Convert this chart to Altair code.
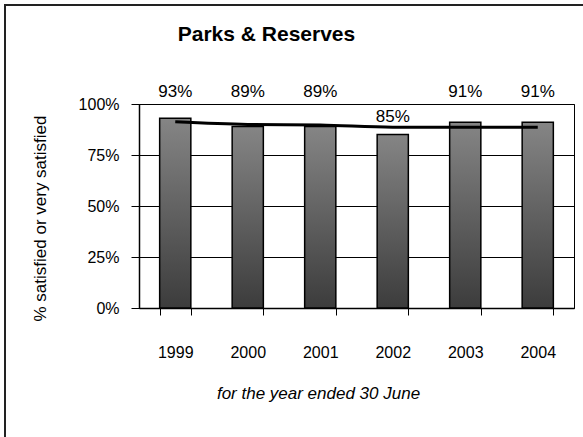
import altair as alt
import pandas as pd

# ---- data ----
years = ["1999", "2000", "2001", "2002", "2003", "2004"]
satisfied = [0.93, 0.89, 0.89, 0.85, 0.91, 0.91]
trend = [0.913, 0.900, 0.897, 0.886, 0.886, 0.886]
labels = ["93%", "89%", "89%", "85%", "91%", "91%"]
y_ticks = [0, 0.25, 0.5, 0.75, 1.0]

df = pd.DataFrame({"year": years, "value": satisfied, "trend": trend, "label": labels})

SANS = "Liberation Sans, Arial, sans-serif"

x_enc = alt.X(
    "year:N",
    sort=years,
    scale=alt.Scale(paddingInner=0.57, paddingOuter=0.285),
    axis=alt.Axis(
        title="for the year ended 30 June",
        labelAngle=0,
        tickBand="extent",
        tickSize=7,
        tickColor="black",
        domainColor="black",
        domainWidth=1.5,
        labelFont=SANS,
        labelFontSize=16,
        labelColor="black",
        labelPadding=29,
        titleFont=SANS,
        titleFontSize=17,
        titleFontStyle="italic",
        titleFontWeight="normal",
        titleColor="black",
        titleX=179,
        titleY=90,
        titleAlign="center",
        titleBaseline="alphabetic",
        grid=False,
    ),
)

y_scale = alt.Scale(domain=[0, 1])
y_axis = alt.Axis(
    title="% satisfied or very satisfied",
    values=y_ticks,
    format=".0%",
    grid=True,
    gridColor="black",
    gridWidth=1,
    tickSize=8,
    tickColor="black",
    domainColor="black",
    domainWidth=1.5,
    labelFont=SANS,
    labelFontSize=16,
    labelColor="black",
    labelPadding=12,
    labelFlush=False,
    titleFont=SANS,
    titleFontSize=17,
    titleFontWeight="normal",
    titleColor="black",
    titleX=-99,
    titleY=114,
    titleAlign="center",
    titleBaseline="middle",
    titleAngle=-90,
)

base = alt.Chart(df)

bars = base.mark_bar(
    color=alt.Gradient(
        gradient="linear",
        stops=[alt.GradientStop(color="#858585", offset=0),
               alt.GradientStop(color="#3c3c3c", offset=1)],
        x1=0, x2=0, y1=0, y2=1,
    ),
    stroke="black",
    strokeWidth=1.5,
).encode(x=x_enc, y=alt.Y("value:Q", scale=y_scale, axis=y_axis))

line = base.mark_line(color="black", strokeWidth=3, interpolate="monotone").encode(
    x=alt.X("year:N", sort=years), y=alt.Y("trend:Q", scale=y_scale)
)

text = base.transform_calculate(
    labelY="datum.value < 0.88 ? datum.value + 0.085 : 1.06"
).mark_text(font=SANS, fontSize=17, color="black", baseline="middle").encode(
    x=alt.X("year:N", sort=years),
    y=alt.Y("labelY:Q", scale=y_scale),
    text="label:N",
)

frame_df = pd.DataFrame({"k": [0]})
frame_left = alt.Chart(frame_df).mark_rule(color="#222222", strokeWidth=2).encode(
    x=alt.value(-134), y=alt.value(-99), y2=alt.value(340)
)
frame_top = alt.Chart(frame_df).mark_rule(color="#222222", strokeWidth=2).encode(
    x=alt.value(-135), x2=alt.value(450), y=alt.value(-99)
)

chart = (
    alt.layer(bars, line, text, frame_left, frame_top)
    .properties(
        width=435,
        height=204,
        autosize=alt.AutoSizeParams(type="none"),
        padding={"left": 139, "top": 104, "right": 9, "bottom": 129},
        title=alt.TitleParams(
            "Parks & Reserves",
            font=SANS,
            fontSize=21,
            fontWeight="bold",
            color="black",
            anchor="middle",
            dx=-90,
            dy=58,
            offset=0,
            baseline="alphabetic",
        ),
        background="white",
    )
    .configure_view(stroke="black", strokeWidth=1)
)

chart.save("out.html", embed_options={"renderer": "svg", "actions": False})
